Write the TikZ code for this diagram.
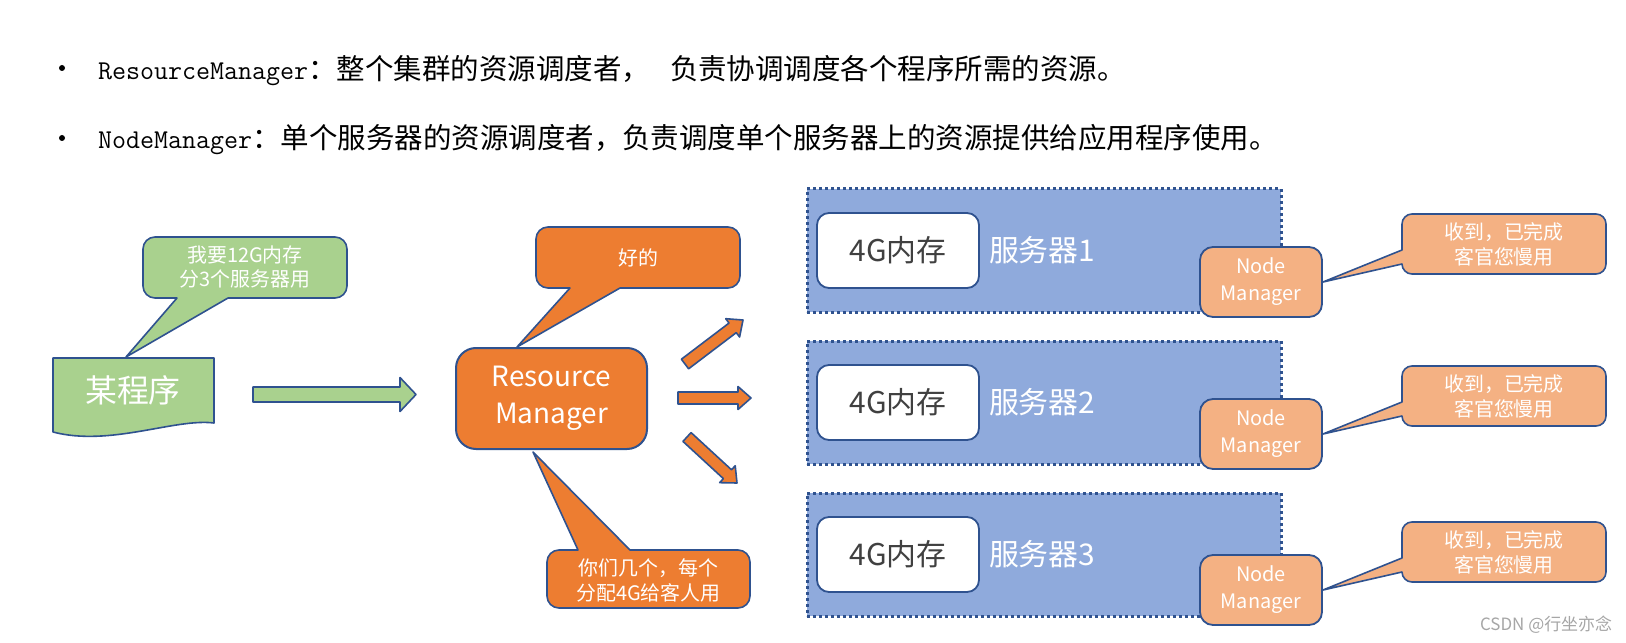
\documentclass[tikz,border=0pt]{standalone}
\usepackage{fontspec}
\setmainfont{Noto Sans CJK SC}
\newfontfamily\cjk{Noto Sans CJK SC}
\usetikzlibrary{calc}
\definecolor{cgreen}{HTML}{A9D18E}
\definecolor{cborder}{HTML}{2F528F}
\definecolor{corange}{HTML}{ED7D31}
\definecolor{clorange}{HTML}{F4B183}
\definecolor{cserver}{HTML}{8FAADC}
\definecolor{cdark}{HTML}{404040}
\definecolor{cwm}{HTML}{A6A6A6}
% #1 start, #2 end, #3 half shaft, #4 half head, #5 head length, #6 style
\newcommand\blockarrow[6]{%
  \coordinate (ba-c) at ($(#2)!#5!(#1)$);
  \draw[#6] ($(#1)!#3!90:(#2)$) -- ($(ba-c)!#3!90:(#2)$) -- ($(ba-c)!#4!90:(#2)$) -- (#2)
    -- ($(ba-c)!#4!-90:(#2)$) -- ($(ba-c)!#3!-90:(#2)$) -- ($(#1)!#3!-90:(#2)$) -- cycle;}
\begin{document}
\begin{tikzpicture}[x=1bp,y=-1bp,
  every node/.style={inner sep=0pt, outer sep=0pt},
  shapeline/.style={draw=cborder, line width=1.6bp, line join=round},
  calltext/.style={text=white, align=center, font=\fontsize{20}{24.5}\selectfont},
  server/.style={fill=cserver, draw=cborder, line width=3bp, dash pattern=on 3bp off 3bp,
    minimum width=474bp, minimum height=123bp},
  membox/.style={fill=white, draw=cborder, line width=1.8bp, rounded corners=12bp,
    minimum width=162bp, minimum height=75bp, text=cdark, font=\fontsize{30}{30}\selectfont},
  nmbox/.style={fill=clorange, draw=cborder, line width=1.8bp, rounded corners=13bp,
    minimum width=122bp, minimum height=70bp, text=white, align=center,
    font=\fontsize{20}{27}\selectfont},
]
\useasboundingbox[fill=white] (0,0) rectangle (1626,643);

% bullet lines
\node[circle, fill=black, minimum size=6bp] (bul1) at (62,68) {};
\node[circle, fill=black, minimum size=6bp] (bul2) at (62,138) {};
\node[anchor=base west] (t1) at (98,80)
  {\ttfamily\fontsize{27.3}{30}\selectfont ResourceManager\cjk\fontsize{28.6}{30}\selectfont ：整个集群的资源调度者，\hspace{20bp}负责协调调度各个程序所需的资源。};
\node[anchor=base west] (t2) at (98,149)
  {\ttfamily\fontsize{27.3}{30}\selectfont NodeManager\cjk\fontsize{28.6}{30}\selectfont ：单个服务器的资源调度者，负责调度单个服务器上的资源提供给应用程序使用。};

% program document
\draw[shapeline, fill=cgreen] (53,358) -- (214,358) -- (214,423)
  .. controls (175,418) and (110,447) .. (53,432) -- cycle;
\node[text=white, font=\fontsize{32}{32}\selectfont] (prog) at (133,390) {某程序};
\coordinate (progtop) at (126,357);

% green callout
\draw[shapeline, fill=cgreen] (progtop) -- (177,298) [rounded corners=12bp] -- (143,298) -- (143,237)
  -- (347,237) -- (347,298) [sharp corners] -- (228,298) -- cycle;
\node[calltext] (say1) at (245,267) {我要12G内存\\分3个服务器用};

% green arrow
\coordinate (ga1) at (253,394.5);
\coordinate (ga2) at (416,394.5);
\blockarrow{ga1}{ga2}{7.5bp}{17bp}{16bp}{shapeline, fill=cgreen}

% resource manager
\node[draw=cborder, line width=2bp, fill=corange, rounded corners=20bp, minimum width=191bp,
  minimum height=101bp, text=white, align=center, font=\fontsize{28}{37}\selectfont]
  (rm) at (551.5,398.5) {Resource\\Manager};

% callout "好的"
\coordinate (rmtop) at (517,347);
\draw[shapeline, fill=corange] (rmtop) -- (570,288) [rounded corners=12bp] -- (536,288) -- (536,227)
  -- (740,227) -- (740,288) [sharp corners] -- (620,288) -- cycle;
\node[calltext] (say2) at (638,257.5) {好的};

% bottom callout
\coordinate (rmbot) at (533,452);
\draw[shapeline, fill=corange] (rmbot) -- (578,550) [rounded corners=12bp] -- (547,550) -- (547,608)
  -- (750,608) -- (750,550) [sharp corners] -- (630,550) -- cycle;
\node[calltext] (say3) at (648.5,580.5) {你们几个，每个\\分配4G给客人用};

% orange arrows
\coordinate (oa1s) at (685,364); \coordinate (oa1e) at (743,320);
\coordinate (oa2s) at (678,398); \coordinate (oa2e) at (751,398);
\coordinate (oa3s) at (687,437); \coordinate (oa3e) at (737,483);
\blockarrow{oa1s}{oa1e}{6bp}{11.5bp}{13bp}{shapeline, fill=corange}
\blockarrow{oa2s}{oa2e}{6bp}{11.5bp}{13bp}{shapeline, fill=corange}
\blockarrow{oa3s}{oa3e}{6bp}{11.5bp}{13bp}{shapeline, fill=corange}

% servers
\foreach \i/\t/\n in {1/189/247,2/341/399,3/493/555} {
  \node[server] (srv\i) at (1044,\t+61.5) {};
  \node[membox] (mem\i) at (898,\t+61.5) {4G内存};
  \node[anchor=west, text=white, font=\fontsize{30}{30}\selectfont] (name\i) at (989,\t+61) {服务器\i};
  \node[nmbox] (nm\i) at (1261,\n+35) {Node\\Manager};
  \coordinate (nmtip\i) at (1323,\n+35);
  \draw[shapeline, fill=clorange] (nmtip\i) -- (1402,\n+17) [rounded corners=10bp] -- (1402,\n+27)
    -- (1606,\n+27) -- (1606,\n-33) -- (1402,\n-33) [sharp corners] -- (1402,\n+3) -- cycle;
  \node[calltext] (ok\i) at (1504,\n-2.5) {收到，已完成\\客官您慢用};
}

% watermark
\node[anchor=east, text=cwm, font=\fontsize{17}{17}\selectfont] (wm) at (1612,625) {CSDN @行坐亦念};
\end{tikzpicture}
\end{document}
